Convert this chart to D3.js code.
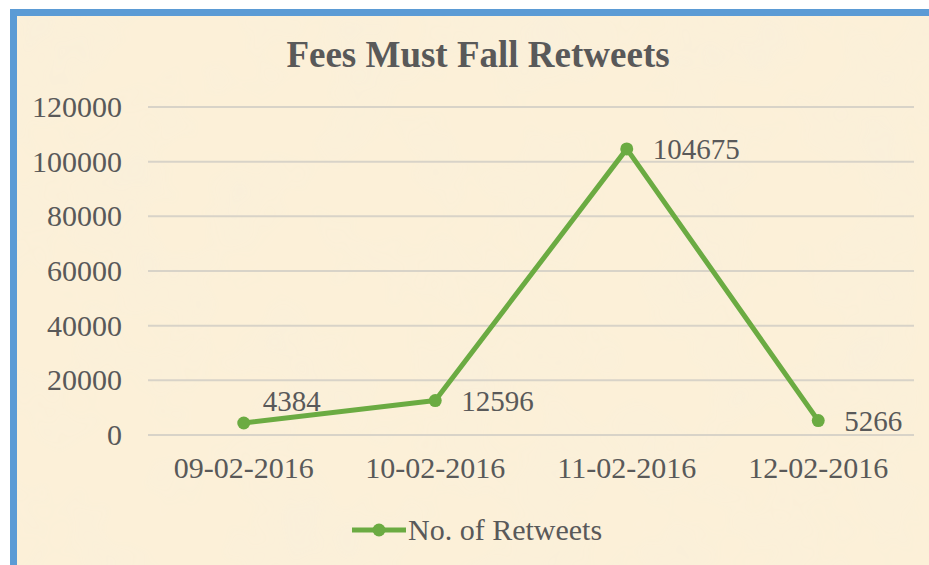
<!DOCTYPE html>
<html>
<head>
<meta charset="utf-8">
<script src="https://cdn.jsdelivr.net/npm/d3@7"></script>
<style>
  html, body { margin: 0; padding: 0; background: #fff; }
  svg { display: block; }
</style>
</head>
<body>
<div class="canvas"></div>
<script>
// chart data
const dates = ['09-02-2016', '10-02-2016', '11-02-2016', '12-02-2016'];
const retweets = [4384, 12596, 104675, 5266];
const yTicks = [0, 20000, 40000, 60000, 80000, 100000, 120000];
const seriesName = 'No. of Retweets';
const chartTitle = 'Fees Must Fall Retweets';

const width = 929;
const height = 565;
const margin = {top: 107, right: 15, bottom: 130, left: 148};
const graphWidth = width - margin.left - margin.right;
const graphHeight = height - margin.top - margin.bottom;

const green = '#6bab42';
const textColor = '#595959';
const font = '"Liberation Serif", "Times New Roman", serif';

const svg = d3.select('.canvas')
  .append('svg')
  .attr('width', width)
  .attr('height', height);

// parchment-like background
const defs = svg.append('defs');
const filter = defs.append('filter').attr('id', 'paper')
  .attr('x', 0).attr('y', 0).attr('width', '100%').attr('height', '100%');
filter.append('feTurbulence')
  .attr('type', 'fractalNoise')
  .attr('baseFrequency', 0.012)
  .attr('numOctaves', 3)
  .attr('seed', 4)
  .attr('result', 'noise');
filter.append('feColorMatrix')
  .attr('in', 'noise')
  .attr('type', 'matrix')
  .attr('values', '0 0 0 0 0.93  0 0 0 0 0.86  0 0 0 0 0.72  0 0 0 -0.9 0.55')
  .attr('result', 'tint');
filter.append('feComposite').attr('in', 'tint').attr('in2', 'SourceGraphic').attr('operator', 'in');

svg.append('rect')
  .attr('x', 10).attr('y', 9)
  .attr('width', width - 10).attr('height', height - 9)
  .attr('fill', '#fcf0d8');
svg.append('rect')
  .attr('x', 17).attr('y', 16)
  .attr('width', width - 17).attr('height', height - 16)
  .attr('fill', '#fcf0d8')
  .attr('filter', 'url(#paper)');

// blue frame (top and left)
svg.append('rect').attr('x', 10).attr('y', 9).attr('width', width - 10).attr('height', 7).attr('fill', '#5b9bd5');
svg.append('rect').attr('x', 10).attr('y', 9).attr('width', 7).attr('height', height - 9).attr('fill', '#5b9bd5');

svg.append('text')
  .attr('x', 478)
  .attr('y', 67)
  .attr('text-anchor', 'middle')
  .style('font-family', font)
  .style('font-weight', 'bold')
  .style('font-size', '37px')
  .attr('fill', textColor)
  .text(chartTitle);

const graph = svg.append('g')
  .attr('transform', `translate(${margin.left}, ${margin.top})`);

const y = d3.scaleLinear()
  .domain([0, 120000])
  .range([graphHeight, 0]);

const x = d3.scaleBand()
  .domain(dates)
  .range([0, graphWidth]);

// gridlines
graph.append('g')
  .selectAll('line')
  .data(yTicks)
  .enter()
  .append('line')
  .attr('x1', 0)
  .attr('x2', graphWidth)
  .attr('y1', d => y(d))
  .attr('y2', d => y(d))
  .attr('stroke', '#d8d3c8')
  .attr('stroke-width', 2);

const yAxis = d3.axisLeft(y)
  .tickValues(yTicks)
  .tickSize(0)
  .tickPadding(26)
  .tickFormat(d => d);
const gYAxis = graph.append('g').call(yAxis);
gYAxis.select('.domain').remove();
gYAxis.selectAll('text')
  .style('font-family', font)
  .style('font-size', '30px')
  .attr('fill', textColor);

const xAxis = d3.axisBottom(x).tickSize(0).tickPadding(22);
const gXAxis = graph.append('g')
  .attr('transform', `translate(0, ${graphHeight})`)
  .call(xAxis);
gXAxis.select('.domain').remove();
gXAxis.selectAll('text')
  .style('font-family', font)
  .style('font-size', '30px')
  .attr('fill', textColor);

const cx = d => x(d) + x.bandwidth() / 2;

const line = d3.line()
  .x((d, i) => cx(dates[i]))
  .y(d => y(d));

graph.append('path')
  .datum(retweets)
  .attr('d', line)
  .attr('fill', 'none')
  .attr('stroke', green)
  .attr('stroke-width', 5)
  .attr('stroke-linejoin', 'round');

graph.selectAll('circle.pt')
  .data(retweets)
  .enter()
  .append('circle')
  .attr('class', 'pt')
  .attr('cx', (d, i) => cx(dates[i]))
  .attr('cy', d => y(d))
  .attr('r', 6.5)
  .attr('fill', green);

// data labels, right of each point (first one nudged up)
graph.selectAll('text.lbl')
  .data(retweets)
  .enter()
  .append('text')
  .attr('class', 'lbl')
  .attr('x', (d, i) => cx(dates[i]) + (i === 0 ? 19 : 26))
  .attr('y', (d, i) => y(d) + (i === 0 ? -12 : 10))
  .style('font-family', font)
  .style('font-size', '29px')
  .attr('fill', textColor)
  .text(d => d);

// legend
const legend = svg.append('g').attr('transform', 'translate(352, 530)');
legend.append('line')
  .attr('x1', 0).attr('x2', 54)
  .attr('y1', 0).attr('y2', 0)
  .attr('stroke', green)
  .attr('stroke-width', 5);
legend.append('circle')
  .attr('cx', 27).attr('cy', 0).attr('r', 6.5)
  .attr('fill', green);
legend.append('text')
  .attr('x', 56)
  .attr('y', 10)
  .style('font-family', font)
  .style('font-size', '30px')
  .attr('fill', textColor)
  .text(seriesName);
</script>
</body>
</html>
